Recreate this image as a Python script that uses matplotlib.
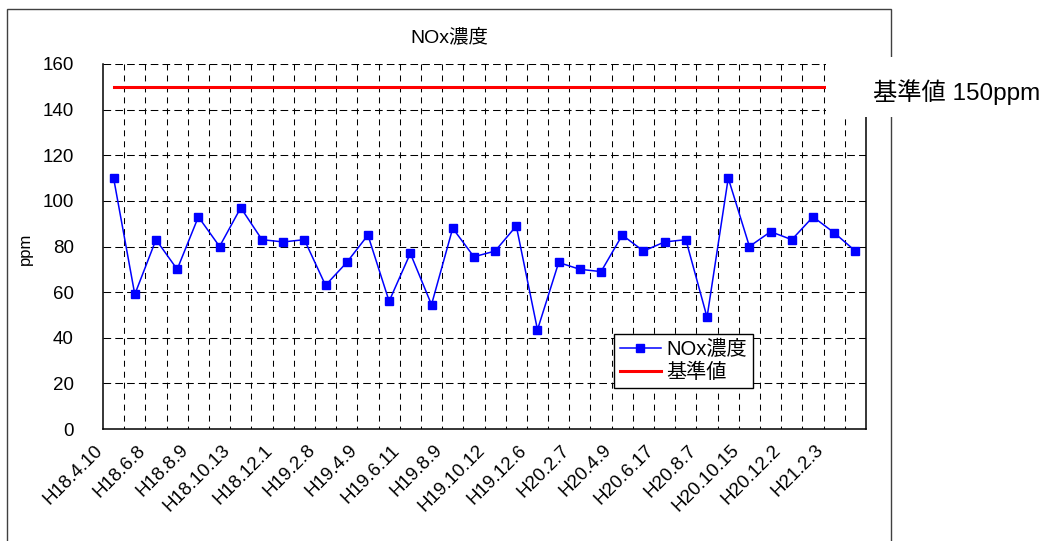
import matplotlib
matplotlib.use("Agg")
import matplotlib.pyplot as plt
import numpy as np
from matplotlib.patches import Rectangle
from matplotlib.transforms import ScaledTranslation

plt.rcParams["font.family"] = ["Liberation Sans", "Noto Sans CJK JP"]
plt.rcParams["lines.scale_dashes"] = False

# Survey dates (every other one is labelled on the axis)
survey_dates = [
    "H18.4.10", "", "H18.6.8", "", "H18.8.9", "", "H18.10.13", "",
    "H18.12.1", "", "H19.2.8", "", "H19.4.9", "", "H19.6.11", "",
    "H19.8.9", "", "H19.10.12", "", "H19.12.6", "", "H20.2.7", "",
    "H20.4.9", "", "H20.6.17", "", "H20.8.7", "", "H20.10.15", "",
    "H20.12.2", "", "H21.2.3", "",
]

# Measured NOx concentration (ppm)
nox_ppm = [
    110, 59, 83, 70, 93, 80, 97, 83, 82, 83, 63, 73,
    85, 56, 77, 54.5, 88, 75.5, 78, 89, 43.5, 73, 70, 69,
    85, 78, 82, 83, 49, 110, 80, 86.5, 83, 93, 86, 78,
]

# Regulatory limit (ppm)
limit_ppm = 150
standard_ppm = [limit_ppm] * len(nox_ppm)

y_ticks = [0, 20, 40, 60, 80, 100, 120, 140, 160]

W, H = 1046, 541
fig = plt.figure(figsize=(W / 100, H / 100), dpi=100)
ax = fig.add_axes([103 / W, 1 - 429 / H, 763 / W, 365 / H])

x = np.arange(len(nox_ppm))
ax.set_xlim(-0.5, len(nox_ppm) - 0.5)
ax.set_ylim(y_ticks[0], y_ticks[-1])

# dashed grid: horizontal at each value tick, vertical between categories
grid_kw = dict(color="black", linewidth=0.75, zorder=1)
ax.hlines(y_ticks[1:], -0.5, len(nox_ppm) - 0.5, linestyles=[(0, (5.5, 3.0))], **grid_kw)
bounds = np.arange(1, len(nox_ppm)) - 0.5
ax.vlines(bounds, y_ticks[-1], y_ticks[0], linestyles=[(0, (4.3, 3.6))], **grid_kw)

ax.plot(x, nox_ppm, color="#0000FF", linewidth=1.1, marker="s",
        markersize=5.2, label="NOx濃度", zorder=3)
ax.plot(x, standard_ppm, color="#FF0000", linewidth=2.2, label="基準値", zorder=3)

ax.set_yticks(y_ticks)
ax.set_xticks(x, survey_dates)
ax.tick_params(axis="both", length=0, labelsize=13.5)
ax.tick_params(axis="y", pad=21)
ax.tick_params(axis="x", pad=13.5)
shift = ScaledTranslation(-13 / 100, 0, fig.dpi_scale_trans)
for lab in ax.get_xticklabels():
    lab.set_rotation(45)
    lab.set_ha("right")
    lab.set_va("center")
    lab.set_rotation_mode("anchor")
    lab.set_transform(lab.get_transform() + shift)

for side in ("left", "bottom", "right"):
    ax.spines[side].set_linewidth(1.1)
    ax.spines[side].set_color("black")
ax.spines["top"].set_visible(False)

leg = ax.legend(loc="lower left", bbox_to_anchor=(0.670, 0.112), borderaxespad=0,
                fontsize=14.5, fancybox=False, framealpha=1, edgecolor="black",
                handlelength=2.0, handletextpad=0.3, borderpad=0.3,
                labelspacing=0.2)
leg.get_frame().set_linewidth(1.0)

fig.text(449 / W, 1 - 37 / H, "NOx濃度", ha="center", va="center", fontsize=14)
fig.text(25 / W, 1 - 249 / H, "ppm", ha="center", va="center", rotation=90, fontsize=12)

# chart frame
fig.add_artist(Rectangle((7 / W, -0.1), (891 - 7) / W, 1 - 9 / H + 0.1, fill=False,
                         edgecolor="#404040", linewidth=1.0,
                         transform=fig.transFigure, zorder=2))
# annotation box for the limit value
fig.add_artist(Rectangle((826 / W, 1 - 117 / H), (W - 826) / W, 60 / H,
                         facecolor="white", edgecolor="none",
                         transform=fig.transFigure, zorder=3))
fig.text(873 / W, 1 - 92 / H, f"基準値 {limit_ppm}ppm", ha="left", va="center",
         fontsize=17.5, zorder=4)

fig.savefig("out.png", dpi=100)
